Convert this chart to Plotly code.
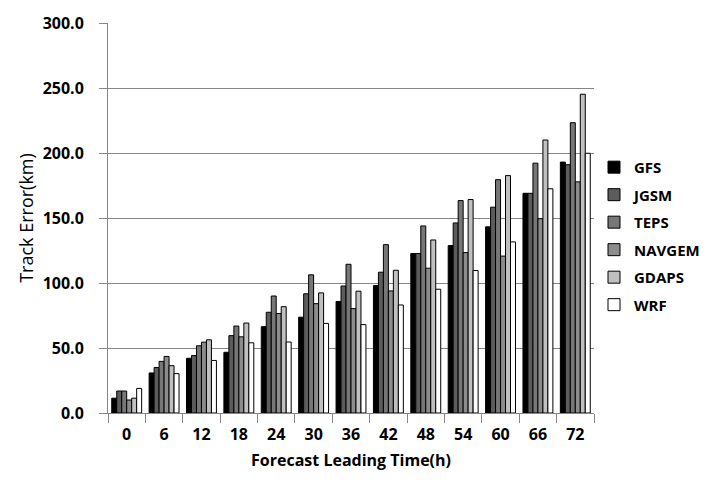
import plotly.graph_objects as go

categories = ["0", "6", "12", "18", "24", "30", "36", "42", "48", "54", "60", "66", "72"]
gfs    = [11.4, 30.8, 42.1, 46.7, 66.4, 73.7, 85.8, 98.0, 122.7, 128.8, 143.2, 169.0, 193.0]
jgsm   = [16.9, 35.0, 44.2, 59.5, 77.5, 91.7, 97.7, 108.3, 122.7, 146.2, 158.3, 169.0, 191.0]
teps   = [16.9, 39.7, 51.7, 66.9, 90.0, 106.3, 114.4, 129.5, 143.9, 163.4, 179.5, 192.2, 223.3]
navgem = [10.0, 43.5, 54.5, 58.6, 76.5, 84.1, 80.3, 93.9, 111.4, 123.4, 120.7, 149.5, 177.8]
gdaps  = [11.4, 36.4, 56.3, 69.2, 81.8, 92.4, 93.7, 109.8, 133.1, 164.2, 182.6, 210.0, 245.2]
wrf    = [18.9, 30.3, 40.4, 54.0, 54.6, 68.9, 68.0, 83.1, 95.2, 109.6, 131.6, 172.5, 199.8]

series = [
    ("GFS", gfs, "#000000"),
    ("JGSM", jgsm, "#5c5c5c"),
    ("TEPS", teps, "#777777"),
    ("NAVGEM", navgem, "#8c8c8c"),
    ("GDAPS", gdaps, "#c0c0c0"),
    ("WRF", wrf, "#ffffff"),
]

fig = go.Figure()
for name, vals, col in series:
    fig.add_trace(go.Bar(
        x=categories, y=vals, name=name, legendgroup=name,
        marker=dict(color=col, line=dict(color="#000000", width=1)),
    ))

font_family = "Open Sans"
fig.update_layout(
    width=718, height=491,
    margin=dict(l=108, r=124, t=18, b=78),
    paper_bgcolor="white", plot_bgcolor="white",
    barmode="group", bargap=0.2, bargroupgap=0,
    font=dict(family=font_family, size=14, color="#000000"),
    showlegend=True,
    legend=dict(
        x=1.0, xanchor="left", y=0.672, yanchor="top",
        font=dict(family=font_family, size=15, color="#000000", weight="bold"),
        tracegroupgap=5, itemwidth=30,
        bgcolor="rgba(0,0,0,0)",
    ),
    xaxis=dict(
        type="category",
        showline=True, linecolor="#868686", linewidth=1,
        ticks="outside", tickson="boundaries", ticklen=9, tickcolor="#868686",
        ticklabelstandoff=7,
        tickfont=dict(family=font_family, size=16, weight="bold"),
        title=dict(text="Forecast Leading Time(h)", font=dict(family=font_family, size=16, weight="bold"), standoff=10),
        showgrid=False,
    ),
    yaxis=dict(
        range=[0, 300], dtick=50, tickformat=".1f",
        showline=True, linecolor="#868686", linewidth=1,
        ticks="outside", ticklen=8, tickcolor="#868686",
        ticklabelstandoff=12,
        showgrid=True, gridcolor="#868686", gridwidth=1,
        zeroline=False,
        tickfont=dict(family=font_family, size=16, weight="bold"),
        title=dict(text="Track Error(km)", font=dict(family=font_family, size=18), standoff=4),
    ),
)

fig.write_html("out.html")
